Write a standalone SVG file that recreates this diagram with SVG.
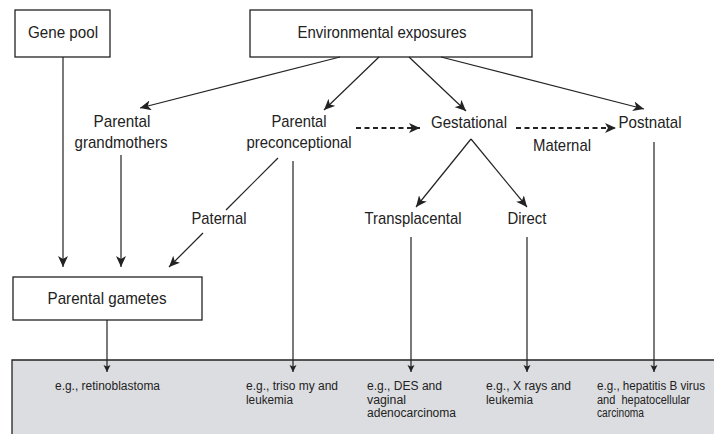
<svg xmlns="http://www.w3.org/2000/svg" width="714" height="434" viewBox="0 0 714 434">
<style>
.box{fill:#fff;stroke:#222;stroke-width:1.3}
.lbl{font-family:"Liberation Sans",Arial,sans-serif;font-size:17px;fill:#222;text-anchor:middle}
.sm{font-family:"Liberation Sans",Arial,sans-serif;font-size:12.5px;fill:#222}
.ln{stroke:#222;stroke-width:1.2;fill:none}
.dash{stroke:#222;stroke-width:2;fill:none;stroke-dasharray:5 3.5}
</style>
<defs>
<marker id="ah" markerUnits="userSpaceOnUse" markerWidth="12" markerHeight="10" refX="11" refY="5" orient="auto">
<path d="M0,0 L11,5 L0,10 L3,5 Z" fill="#222"/>
</marker>
<marker id="ahs" markerUnits="userSpaceOnUse" markerWidth="8" markerHeight="8" refX="7" refY="3.5" orient="auto">
<path d="M0,0 L7,3.5 L0,7 L1.5,3.5 Z" fill="#222"/>
</marker>
</defs>
<g id="outcomes">
<rect x="12" y="360" width="702" height="74" fill="#dcdde0"/>
<path d="M12,434 V360 H714" fill="none" stroke="#222" stroke-width="1.3"/>
<text class="sm" x="55" y="390" textLength="105" lengthAdjust="spacingAndGlyphs">e.g., retinoblastoma</text>
<text class="sm" x="246" y="390" textLength="92" lengthAdjust="spacingAndGlyphs">e.g., triso my and</text>
<text class="sm" x="246" y="403.5" textLength="47" lengthAdjust="spacingAndGlyphs">leukemia</text>
<text class="sm" x="367" y="390" textLength="75" lengthAdjust="spacingAndGlyphs">e.g., DES and</text>
<text class="sm" x="367" y="403.5" textLength="39" lengthAdjust="spacingAndGlyphs">vaginal</text>
<text class="sm" x="367" y="417" textLength="89" lengthAdjust="spacingAndGlyphs">adenocarcinoma</text>
<text class="sm" x="486" y="390" textLength="85" lengthAdjust="spacingAndGlyphs">e.g., X rays and</text>
<text class="sm" x="486" y="403.5" textLength="47" lengthAdjust="spacingAndGlyphs">leukemia</text>
<text class="sm" x="597" y="390" font-size="12" textLength="108" lengthAdjust="spacingAndGlyphs">e.g., hepatitis B virus</text>
<text class="sm" x="597" y="403.5" textLength="93" lengthAdjust="spacingAndGlyphs" xml:space="preserve">and  hepatocellular</text>
<text class="sm" x="597" y="417" textLength="47" lengthAdjust="spacingAndGlyphs">carcinoma</text>
</g>
<g id="gene-pool">
<rect class="box" x="15" y="10" width="95" height="47"/>
<text class="lbl" x="63" y="38" textLength="70" lengthAdjust="spacingAndGlyphs">Gene pool</text>
</g>
<g id="environmental-exposures">
<rect class="box" x="250" y="10" width="282" height="47"/>
<text class="lbl" x="382" y="38" textLength="169" lengthAdjust="spacingAndGlyphs">Environmental exposures</text>
</g>
<g id="parental-grandmothers">
<text class="lbl" x="122" y="127" textLength="57" lengthAdjust="spacingAndGlyphs">Parental</text>
<text class="lbl" x="121" y="148" textLength="93" lengthAdjust="spacingAndGlyphs">grandmothers</text>
</g>
<g id="parental-preconceptional">
<text class="lbl" x="299" y="127" textLength="55" lengthAdjust="spacingAndGlyphs">Parental</text>
<text class="lbl" x="299" y="148" textLength="105" lengthAdjust="spacingAndGlyphs">preconceptional</text>
</g>
<g id="gestational">
<text class="lbl" x="469" y="128" textLength="76" lengthAdjust="spacingAndGlyphs">Gestational</text>
</g>
<g id="postnatal">
<text class="lbl" x="650" y="128" textLength="63" lengthAdjust="spacingAndGlyphs">Postnatal</text>
</g>
<g id="transplacental">
<text class="lbl" x="413" y="224" textLength="97" lengthAdjust="spacingAndGlyphs">Transplacental</text>
</g>
<g id="direct">
<text class="lbl" x="527" y="224" textLength="39" lengthAdjust="spacingAndGlyphs">Direct</text>
</g>
<g id="parental-gametes">
<rect class="box" x="13" y="277" width="189" height="43"/>
<text class="lbl" x="107" y="304" textLength="119" lengthAdjust="spacingAndGlyphs">Parental gametes</text>
</g>
<g id="connectors">
<line class="ln" x1="340" y1="57" x2="140" y2="108" marker-end="url(#ah)"/>
<line class="ln" x1="379" y1="57" x2="324" y2="110" marker-end="url(#ah)"/>
<line class="ln" x1="409" y1="57" x2="466" y2="111" marker-end="url(#ah)"/>
<line class="ln" x1="441" y1="57" x2="644" y2="109" marker-end="url(#ah)"/>
<line class="dash" x1="356" y1="128" x2="420" y2="128" marker-end="url(#ah)"/>
<line class="dash" x1="516" y1="128" x2="616" y2="128" marker-end="url(#ah)"/>
<text class="lbl" x="562" y="151" textLength="58" lengthAdjust="spacingAndGlyphs">Maternal</text>
<line class="ln" x1="63" y1="57" x2="63" y2="267" marker-end="url(#ah)"/>
<line class="ln" x1="121" y1="155" x2="121" y2="267" marker-end="url(#ah)"/>
<line class="ln" x1="278" y1="158" x2="226" y2="210"/>
<text class="lbl" x="219" y="224" textLength="55" lengthAdjust="spacingAndGlyphs">Paternal</text>
<line class="ln" x1="203" y1="233" x2="169" y2="267" marker-end="url(#ah)"/>
<line class="ln" x1="293" y1="161" x2="293" y2="372" marker-end="url(#ahs)"/>
<line class="ln" x1="471" y1="139" x2="416" y2="207" marker-end="url(#ah)"/>
<line class="ln" x1="471" y1="139" x2="527" y2="207" marker-end="url(#ah)"/>
<line class="ln" x1="411" y1="237" x2="411" y2="372" marker-end="url(#ahs)"/>
<line class="ln" x1="527" y1="237" x2="527" y2="372" marker-end="url(#ahs)"/>
<line class="ln" x1="654" y1="142" x2="654" y2="372" marker-end="url(#ahs)"/>
<line class="ln" x1="107" y1="320" x2="107" y2="372" marker-end="url(#ahs)"/>
</g>
</svg>
